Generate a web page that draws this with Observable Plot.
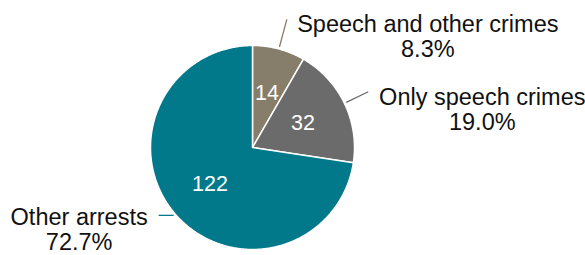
<!DOCTYPE html>
<html><head><meta charset="utf-8">
<script src="https://cdn.jsdelivr.net/npm/d3@7"></script>
<script src="https://cdn.jsdelivr.net/npm/@observablehq/plot@0.6"></script>
<style>body{margin:0;background:#fff}</style>
</head><body><div id="chart"></div>
<script>
// Data
const categories = ["Speech and other crimes", "Only speech crimes", "Other arrests"];
const counts = [14, 32, 122];
const shares = ["8.3%", "19.0%", "72.7%"];

// Styles
const colors = ["#877D6B", "#6B6B6B", "#02798A"];
const FONT = "'Liberation Sans', Arial, Helvetica, sans-serif";

const rows = categories.map((c, i) => ({category: c, count: counts[i], share: shares[i]}));
const arcs = d3.pie().sort(null).value(d => d.count)(rows);

// polygon points for each slice (angle measured clockwise from 12 o'clock)
const pts = [];
arcs.forEach(a => {
  const cat = a.data.category;
  pts.push({category: cat, x: 0, y: 0});
  const n = Math.max(2, Math.ceil((a.endAngle - a.startAngle) / 0.01));
  for (let k = 0; k <= n; k++) {
    const t = a.startAngle + (a.endAngle - a.startAngle) * k / n;
    pts.push({category: cat, x: Math.sin(t), y: Math.cos(t)});
  }
  pts.push({category: cat, x: 0, y: 0});
});

const mid = a => (a.startAngle + a.endAngle) / 2;
const inner = arcs.map(a => ({category: a.data.category, count: a.data.count,
  x: 0.55 * Math.sin(mid(a)), y: 0.55 * Math.cos(mid(a))}));

// leader lines: radial for the two small slices, horizontal for the big one
const PX = 1 / 102; // one pixel in data units
const leaderOuter = [1.3, 1.26, null];
const leaders = arcs.map((a, i) => {
  const m = mid(a);
  const x1 = 1.02 * Math.sin(m), y1 = 1.02 * Math.cos(m);
  let x2, y2;
  if (leaderOuter[i] != null) { x2 = leaderOuter[i] * Math.sin(m); y2 = leaderOuter[i] * Math.cos(m); }
  else { x2 = x1 - 15 * PX; y2 = y1; }
  return {category: a.data.category, share: a.data.share, x1, y1, x2, y2};
});
// label offsets from leader ends (pixels)
const labelOffsets = [[141, -17], [114, -18], [-79.5, -14.5]];
const outer = leaders.map((l, i) => ({
  text: l.category + "\n" + l.share,
  x: l.x2 + labelOffsets[i][0] * PX,
  y: l.y2 + labelOffsets[i][1] * PX
}));

const chart = Plot.plot({
  width: 585,
  height: 255,
  margin: 0,
  style: {fontFamily: FONT, background: "#fff"},
  x: {domain: [-1, 1], range: [150, 354], axis: null},
  y: {domain: [-1, 1], range: [249, 45], axis: null},
  color: {domain: categories, range: colors},
  marks: [
    Plot.line(pts, {x: "x", y: "y", z: "category", fill: "category", stroke: "#fff", strokeWidth: 1.5, strokeLinejoin: "round"}),
    Plot.link(leaders, {x1: "x1", y1: "y1", x2: "x2", y2: "y2", stroke: "category", strokeWidth: 1.3}),
    Plot.text(inner, {x: "x", y: "y", text: d => String(d.count), fill: "#fff", fontSize: 21.5}),
    Plot.text(outer, {x: "x", y: "y", text: "text", fill: "#111", fontSize: 23.5, lineHeight: 25 / 23.5, textAnchor: "middle"})
  ]
});
document.getElementById("chart").appendChild(chart);
</script>
</body></html>
